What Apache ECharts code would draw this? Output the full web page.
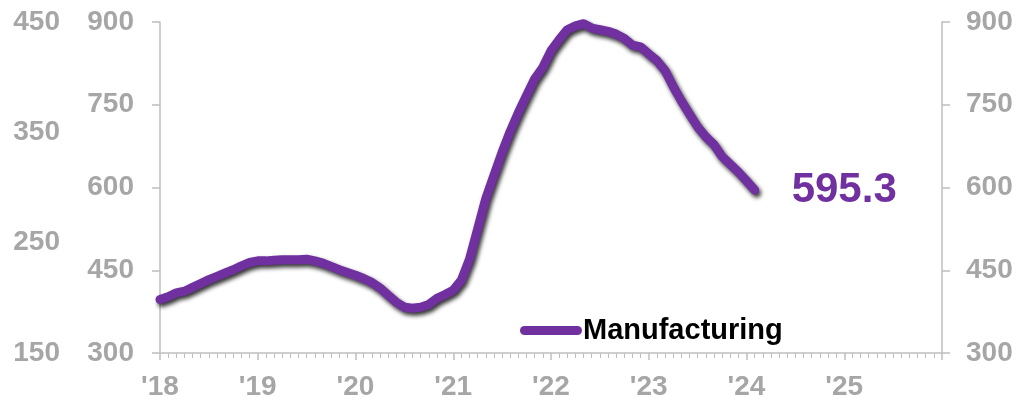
<!DOCTYPE html>
<html>
<head>
<meta charset="utf-8">
<script src="https://cdn.jsdelivr.net/npm/echarts@6/dist/echarts.min.js"></script>
<style>
  html, body { margin: 0; padding: 0; background: #fff; }
  #chart { width: 1021px; height: 401px; }
</style>
</head>
<body>
<div id="chart"></div>
<script>
// Monthly manufacturing series, Jan 2018 onward
const startYear = 2018;
const manufacturing = [
  397, 402, 409, 412, 419, 426, 433, 439, 445, 451, 458, 464,
  467, 467, 468, 469, 469, 469, 470, 467, 463, 457, 451, 446,
  441, 435, 428, 418, 405, 392, 383, 381, 383, 388, 399, 406,
  414, 432, 470, 525, 580, 622, 664, 702, 736, 767, 797, 818,
  848, 868, 886, 893, 897, 889, 886, 883, 878, 870, 858, 855,
  842, 830, 812, 783, 757, 733, 710, 692, 678, 656, 642, 628,
  612, 595.3
];
const seriesName = 'Manufacturing';

// Axis scales and ticks
const xRange = [2018, 2026];
const mainAxis = { min: 300, max: 900, interval: 150 };
const outerAxis = { min: 150, max: 450, interval: 100 };

const points = manufacturing.map((v, i) => [startYear + i / 12, v]);

const gray = '#a6a6a6';
const axisGray = '#bfbfbf';
const purple = '#7030a0';
const font = '"Liberation Sans", Arial, sans-serif';

const chart = echarts.init(document.getElementById('chart'));
chart.setOption({
  animation: false,
  grid: { left: 160, right: 79, top: 22, bottom: 46 },
  legend: {
    left: 520, top: 316, padding: 0,
    icon: 'path://M4.5,0 H57.5 A4.5,4.5 0 0 1 57.5,9 H4.5 A4.5,4.5 0 0 1 4.5,0 Z',
    itemWidth: 62, itemHeight: 9, itemGap: 0,
    textStyle: { color: '#000', fontFamily: font, fontWeight: 'bold', fontSize: 29, padding: [0, 0, 0, -4] },
    data: [seriesName]
  },
  xAxis: {
    type: 'value', min: xRange[0], max: xRange[1], interval: 1,
    axisLine: { lineStyle: { color: axisGray, width: 1.5 } },
    axisTick: { length: 7, lineStyle: { color: axisGray, width: 1.5 } },
    minorTick: { show: true, splitNumber: 12, length: 5, lineStyle: { color: axisGray, width: 1 } },
    splitLine: { show: false },
    axisLabel: {
      color: gray, fontFamily: font, fontWeight: 'bold', fontSize: 28, margin: 20,
      showMaxLabel: false,
      formatter: v => "'" + String(Math.round(v)).slice(2)
    }
  },
  yAxis: [
    {
      type: 'value', position: 'left', ...mainAxis,
      axisLine: { show: true, lineStyle: { color: axisGray, width: 1.5 } },
      axisTick: { show: true, length: 8, lineStyle: { color: axisGray, width: 1.5 } },
      splitLine: { show: false },
      axisLabel: { color: gray, fontFamily: font, fontWeight: 'bold', fontSize: 28, margin: 26 }
    },
    {
      type: 'value', position: 'right', ...mainAxis,
      axisLine: { show: true, lineStyle: { color: axisGray, width: 1.5 } },
      axisTick: { show: true, length: 8, lineStyle: { color: axisGray, width: 1.5 } },
      splitLine: { show: false },
      axisLabel: { color: gray, fontFamily: font, fontWeight: 'bold', fontSize: 28, margin: 24 }
    },
    {
      type: 'value', position: 'left', offset: 100, ...outerAxis,
      axisLine: { show: false }, axisTick: { show: false }, splitLine: { show: false },
      axisLabel: { color: gray, fontFamily: font, fontWeight: 'bold', fontSize: 28, margin: 0 }
    }
  ],
  series: [{
    name: seriesName,
    type: 'line',
    yAxisIndex: 0,
    data: points,
    showSymbol: false,
    smooth: false,
    lineStyle: {
      color: purple, width: 9, cap: 'round', join: 'round',
      shadowColor: 'rgba(0,0,0,0.8)', shadowBlur: 4, shadowOffsetX: 2, shadowOffsetY: 3
    },
    itemStyle: { color: purple },
    endLabel: {
      show: true, distance: 37,
      color: purple, fontFamily: font, fontWeight: 'bold', fontSize: 42,
      formatter: p => p.value[1].toFixed(1)
    }
  }]
});
</script>
</body>
</html>
